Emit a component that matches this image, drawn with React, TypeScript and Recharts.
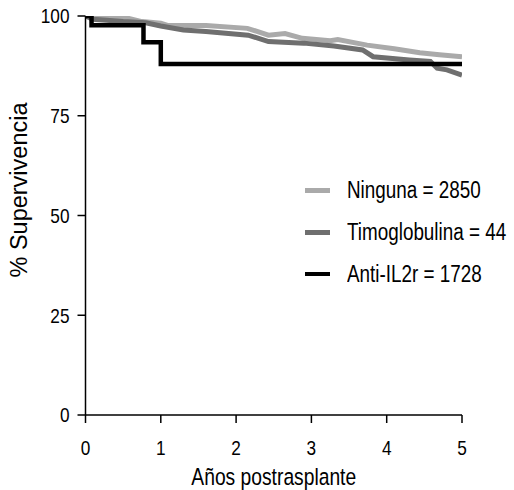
import React from 'react';
import { LineChart, Line, XAxis, YAxis } from 'recharts';

const ningunaYears = [0, 0.3, 0.55, 0.75, 1.0, 1.1, 1.6, 2.15, 2.43, 2.65, 2.88, 3.25, 3.35, 3.74, 4.1, 4.44, 4.7, 5.0];
const ningunaSurv = [100, 99.8, 99.5, 98.6, 98.2, 97.6, 97.6, 96.9, 95.2, 95.6, 94.4, 93.8, 94.1, 92.7, 91.8, 90.8, 90.3, 89.8];

const timoYears = [0, 0.1, 0.5, 0.8, 1.0, 1.3, 1.6, 2.16, 2.43, 2.9, 3.3, 3.68, 3.82, 4.3, 4.58, 4.67, 4.8, 5.0];
const timoSurv = [100, 99.2, 98.6, 98.3, 97.5, 96.5, 96.1, 95.2, 93.6, 93.2, 92.5, 91.5, 89.8, 89.0, 88.6, 86.9, 86.5, 85.2];

const antiYears = [0, 0.08, 0.77, 1.0, 5.0];
const antiSurv = [100, 97.7, 93.4, 88.0, 88.0];

const seriesNames = ['Ninguna = 2850', 'Timoglobulina = 44', 'Anti-IL2r = 1728'];
const seriesColors = ['#aaaaaa', '#6f6f6f', '#000000'];

const xTicks = [0, 1, 2, 3, 4, 5];
const yTicks = [0, 25, 50, 75, 100];

const xTitle = 'Años postrasplante';
const yTitle = '% Supervivencia';

const toPoints = (t: number[], s: number[]) => t.map((x, i) => ({ t: x, s: s[i] }));

const FONT = "'Liberation Sans', Arial, sans-serif";
const SQUEEZE = 0.82;

const seriesData = [
  toPoints(ningunaYears, ningunaSurv),
  toPoints(timoYears, timoSurv),
  toPoints(antiYears, antiSurv),
];
const seriesTypes: any[] = ['linear', 'linear', 'stepAfter'];
const seriesWidths = [5, 5, 4.5];

const XTick = (props: any) => {
  const { x, y, payload } = props;
  return (
    <g transform={`translate(${x},${y})`}>
      <text transform={`scale(${SQUEEZE},1)`} textAnchor="middle" dy="0.71em" fill="#000" fontSize={21} fontFamily={FONT}>
        {payload.value}
      </text>
    </g>
  );
};

const YTick = (props: any) => {
  const { x, y, payload } = props;
  return (
    <g transform={`translate(${x},${y})`}>
      <text transform={`scale(${SQUEEZE},1)`} textAnchor="end" dy="0.355em" fill="#000" fontSize={21} fontFamily={FONT}>
        {payload.value}
      </text>
    </g>
  );
};

const XTitle = (props: any) => {
  const vb = props.viewBox || {};
  const cx = (vb.x ?? 85.5) + (vb.width ?? 376) / 2;
  const by = (vb.y ?? 415) + (vb.height ?? 75) - 5;
  return (
    <g transform={`translate(${cx},${by})`}>
      <text transform={`scale(${SQUEEZE},1)`} textAnchor="middle" fill="#000" fontSize={23.5} fontFamily={FONT}>
        {xTitle}
      </text>
    </g>
  );
};

const YTitle = () => (
  <text
    x={27}
    y={190}
    transform="rotate(-90 27 190)"
    textAnchor="middle"
    fill="#000"
    fontSize={23.5}
    fontFamily={FONT}
  >
    {yTitle}
  </text>
);

export default function App() {
  return (
    <div style={{ position: 'absolute', left: 0, top: 0, width: 514, height: 490, background: '#fff' }}>
      <LineChart width={514} height={490} margin={{ top: 16, right: 52, bottom: 0, left: 0 }}>
        <XAxis
          type="number"
          dataKey="t"
          domain={[0, 5]}
          ticks={xTicks}
          height={75}
          tickSize={8}
          tickMargin={17}
          stroke="#000"
          strokeWidth={1.5}
          tick={<XTick />}
          label={(p: any) => <XTitle {...p} />}
          allowDataOverflow
        />
        <YAxis
          type="number"
          domain={[0, 100]}
          ticks={yTicks}
          width={85.5}
          tickSize={8}
          tickMargin={8}
          stroke="#000"
          strokeWidth={1.5}
          tick={<YTick />}
          label={() => <YTitle />}
          allowDataOverflow
        />
        {seriesData.map((d, i) => (
          <Line
            key={seriesNames[i]}
            data={d}
            dataKey="s"
            name={seriesNames[i]}
            type={seriesTypes[i]}
            stroke={seriesColors[i]}
            strokeWidth={seriesWidths[i]}
            dot={false}
            activeDot={false}
            isAnimationActive={false}
          />
        ))}
      </LineChart>
      <div style={{ position: 'absolute', left: 305, top: 170, width: 209 }}>
        {seriesNames.map((n, i) => (
          <div key={n} style={{ display: 'flex', alignItems: 'center', height: 41.7 }}>
            <div style={{ width: 25, height: seriesWidths[i], background: seriesColors[i], marginRight: 17, flex: 'none' }} />
            <span
              style={{
                fontFamily: FONT,
                fontSize: 23,
                color: '#000',
                whiteSpace: 'nowrap',
                display: 'inline-block',
                transform: `scaleX(${SQUEEZE})`,
                transformOrigin: 'left center',
              }}
            >
              {n}
            </span>
          </div>
        ))}
      </div>
    </div>
  );
}
